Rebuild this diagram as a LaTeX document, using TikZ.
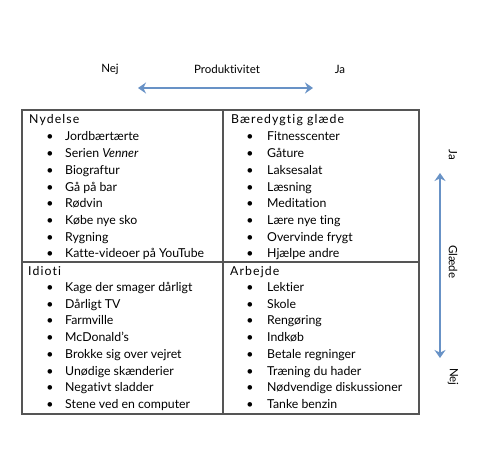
\documentclass[tikz,border=0pt]{standalone}
\usepackage{fontspec}
\setmainfont{Lato}[Ligatures={NoCommon}]
\usetikzlibrary{arrows.meta, positioning}
\definecolor{cArrow}{RGB}{104,146,198}
\definecolor{cFrame}{RGB}{85,85,85}
\newcommand{\itemfont}{\fontsize{12.3}{15}\selectfont}
\tikzset{
	head/.style   ={anchor=base west, inner sep=0pt, font=\itemfont\addfontfeatures{LetterSpace=9}},
	entry/.style  ={anchor=base west, inner sep=0pt, font=\itemfont},
	bullet/.style ={anchor=base, inner sep=0pt, font=\itemfont},
	axislbl/.style={inner sep=0pt, font=\fontsize{11.5}{14}\selectfont},
	axisarrow/.style={{Stealth[length=8pt, width=11pt]}-{Stealth[length=8pt, width=11pt]}, line width=2.8pt, draw=cArrow},
	frame/.style  ={draw=cFrame, line width=1.3pt},
}
\begin{document}
\begin{tikzpicture}[x=1pt, y=-1pt]
	\useasboundingbox (0,0) rectangle (500,449);
	% table
	\draw[frame] (22,110) rectangle (419,414);
	\draw[frame] (223,110) -- (223,414);
	\draw[frame] (22,262) -- (419,262);
	% headers
	\node[head] (nyd) at (29,123.5) {Nydelse};
	\node[head] (baer) at (231,123.5) {Bæredygtig glæde};
	\node[head] (idi) at (28,275.5) {Idioti};
	\node[head] (arb) at (230,275.5) {Arbejde};
	% items
	\foreach \txt [count=\i] in {Jordbærtærte, Serien \textit{Venner}, Biograftur, Gå på bar, Rødvin, Købe nye sko, Rygning, Katte-videoer på YouTube}{
		\node[bullet] (nydb\i) at (50,{141+16.7*(\i-1)}) {•};
		\node[entry] (nyd\i) at (65,{141+16.7*(\i-1)}) {\txt};
	}
	\foreach \txt [count=\i] in {Fitnesscenter, Gåture, Laksesalat, Læsning, Meditation, Lære nye ting, Overvinde frygt, Hjælpe andre}{
		\node[bullet] (baerb\i) at (250,{141+16.7*(\i-1)}) {•};
		\node[entry] (baer\i) at (267,{141+16.7*(\i-1)}) {\txt};
	}
	\foreach \txt [count=\i] in {Kage der smager dårligt, Dårligt TV, Farmville, McDonald’s, Brokke sig over vejret, Unødige skænderier, Negativt sladder, Stene ved en computer}{
		\node[bullet] (idib\i) at (50,{291.5+16.7*(\i-1)}) {•};
		\node[entry] (idi\i) at (65,{291.5+16.7*(\i-1)}) {\txt};
	}
	\foreach \txt [count=\i] in {Lektier, Skole, Rengøring, Indkøb, Betale regninger, Træning du hader, Nødvendige diskussioner, Tanke benzin}{
		\node[bullet] (arbb\i) at (250,{291.5+16.7*(\i-1)}) {•};
		\node[entry] (arb\i) at (267,{291.5+16.7*(\i-1)}) {\txt};
	}
	% productivity axis
	\node[axislbl] (pnej) at (110,69) {Nej};
	\node[axislbl] (prod) at (227,69) {Produktivitet};
	\node[axislbl] (pja) at (340,69) {Ja};
	\coordinate (pl) at (138,88);
	\coordinate (pr) at (313,88);
	\draw[axisarrow] (pl) -- (pr);
	% joy axis
	\node[axislbl, rotate=-90] (gja) at (453,155) {Ja};
	\node[axislbl, rotate=-90] (glaede) at (453,262) {Glæde};
	\node[axislbl, rotate=-90] (gnej) at (453,377) {Nej};
	\coordinate (gt) at (440,173);
	\coordinate (gb) at (440,358);
	\draw[axisarrow] (gt) -- (gb);
\end{tikzpicture}
\end{document}
